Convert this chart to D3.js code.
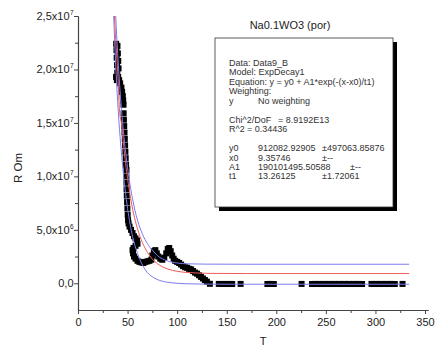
<!DOCTYPE html>
<html>
<head>
<meta charset="utf-8">
<script src="https://cdn.jsdelivr.net/npm/d3@7"></script>
<style>
  body { margin: 0; background: #fff; }
  svg { display: block; font-family: "Liberation Sans", Arial, sans-serif; }
</style>
</head>
<body>
<svg id="chart" width="438" height="347"></svg>
<script>
// measured points [T, R in 1e6 Ohm]
const measured = [
  [38.5,22.4],[39.8,22.2],[38.8,21.8],[40.2,21.5],[39.0,21.1],[40.6,20.8],[39.4,20.4],
  [40.9,20.1],[39.6,19.7],[38.4,19.3],[39.2,19.0],[40.5,19.3],[41.5,19.0],
  [42.5,18.7],[43.8,18.3],[44.5,17.9],[45.2,17.5],[45.6,17.1],[45.9,16.7],
  [46.0,15.9],[46.3,15.3],[46.6,14.7],[46.9,14.1],[47.2,13.5],[47.5,12.9],[47.8,12.3],
  [48.1,11.7],[48.5,11.1],[48.9,10.6],[48.8,10.0],[48.9,9.4],[49.0,8.8],[49.2,8.2],
  [49.5,7.6],[49.8,7.0],[50.1,6.4],[50.5,5.9],
  [51,5.6],[52,5.3],[53.5,5.0],[55,4.7],[56.5,4.4],[58,4.2],[59.5,4.0],[60,3.7],[58,3.5],
  [56,3.3],[55,3.1],[55.5,2.8],[56.5,2.5],[58,2.3],[60,2.1],[62,2.0],[64,1.95],[66,1.9],
  [68,2.0],[70,2.05],[72,2.1],[74,2.2],
  [75,2.6],[76.5,3.0],[78,3.1],[79.5,2.8],[81,2.5],[83,2.3],[85,2.2],[87,2.4],[89,2.8],
  [90.5,3.2],[92,3.3],[93.5,3.0],[95,2.6],[96.5,2.3],[98,2.1],[100,2.0],[102,1.9],
  [104,1.75],[106,1.6],[108,1.5],[110,1.45],[112,1.35],[114,1.3],[116,1.15],[118,1.0],
  [120,0.9],[122,0.75],[124,0.6],[126,0.45],[128,0.3],[130,0.15],
  [133,-0.05],[142,-0.06],[145,-0.07],[148,-0.06],[151,-0.07],[154,-0.06],[155.5,-0.07],
  [164,-0.06],[191,-0.07],[194,-0.06],[197.5,-0.07],[225.5,-0.06],
  [236,-0.07],[238.5,-0.06],[241,-0.07],[243.5,-0.06],[246,-0.07],[248.5,-0.06],[251,-0.07],
  [253.5,-0.06],[256,-0.07],[258.5,-0.06],[261,-0.07],[263.5,-0.06],[266,-0.07],[268.5,-0.06],
  [271,-0.07],[273.5,-0.06],[276,-0.07],[278.5,-0.06],[281,-0.07],[283.5,-0.06],[286.5,-0.07],
  [296,-0.06],[298.5,-0.07],[301,-0.06],[303.5,-0.07],[306,-0.06],[308.5,-0.07],[311,-0.06],
  [313.5,-0.07],[316,-0.06],[319.5,-0.07],[327.3,-0.06]
];

// ExpDecay1 fit curve
const fitCurve = [
  [36.7,25.0],[38,22.8],[40,19.8],[42,16.0],[44,14.9],[46,12.9],[48,11.2],[50,9.8],
  [53,8.0],[56,6.55],[60,5.1],[65,3.8],[70,2.9],[75,2.26],[80,1.84],[90,1.35],
  [100,1.12],[110,1.01],[120,0.96],[140,0.92],[170,0.91],[334,0.91]
];
// upper and lower bands (blue)
const upperBand = [
  [38,25.0],[40,21.5],[45,15.0],[50,10.8],[55,7.9],[60,5.9],[65,4.6],[70,3.7],[75,3.1],
  [80,2.6],[90,2.1],[100,1.9],[110,1.82],[130,1.79],[170,1.78],[334,1.78]
];
const lowerBand = [
  [36,25.0],[38,20.5],[40,17.0],[45,11.0],[50,7.0],[55,4.4],[60,2.8],[65,1.7],[70,1.0],
  [75,0.6],[80,0.35],[90,0.1],[100,0.0],[110,-0.05],[130,-0.08],[170,-0.09],[334,-0.09]
];

const xTicks = [0, 50, 100, 150, 200, 250, 300, 350];
const xMinor = [25, 75, 125, 175, 225, 275, 325];
const yTicks = [0, 5, 10, 15, 20, 25];
const yMinor = [2.5, 7.5, 12.5, 17.5, 22.5];
const yTickMant = ["0,0", "5,0x10", "1,0x10", "1,5x10", "2,0x10", "2,5x10"];
const yTickExp = ["", "6", "7", "7", "7", "7"];

const legendRows = [
  ["Data: Data9_B"],
  ["Model: ExpDecay1"],
  ["Equation: y = y0 + A1*exp(-(x-x0)/t1)"],
  ["Weighting:"],
  ["y", "No weighting"],
  [],
  ["Chi^2/DoF", "= 8.9192E13"],
  ["R^2", "= 0.34436"],
  [],
  ["y0", "912082.92905", "±497063.85876"],
  ["x0", "9.35746", "±--"],
  ["A1", "190101495.50588", "±--"],
  ["t1", "13.26125", "±1.72061"]
];

const svg = d3.select("#chart");
const x = d3.scaleLinear().domain([0, 353]).range([78, 428]);
const y = d3.scaleLinear().domain([-2.5, 25]).range([310, 16]);

// axes
const axisColor = "#444";
function styleAxis(g) {
  g.select(".domain").attr("stroke", axisColor).attr("stroke-width", 1.1);
  g.selectAll(".tick line").attr("stroke", axisColor).attr("stroke-width", 1);
}
svg.append("g").attr("transform", "translate(0,310)")
  .call(d3.axisBottom(x).tickValues(xTicks).tickSize(4).tickSizeOuter(0).tickPadding(4))
  .call(styleAxis)
  .call(g => g.selectAll(".tick text").attr("font-size", 11).attr("fill", "#222")
    .attr("font-family", "Liberation Sans, Arial, sans-serif"));
svg.append("g").attr("transform", "translate(0,310)")
  .call(d3.axisBottom(x).tickValues(xMinor).tickSize(3).tickSizeOuter(0).tickFormat(""))
  .call(styleAxis);

svg.append("g").attr("transform", "translate(78,0)")
  .call(d3.axisLeft(y).tickValues(yTicks).tickSize(4).tickSizeOuter(0).tickFormat(""))
  .call(styleAxis);
svg.append("g").attr("transform", "translate(78,0)")
  .call(d3.axisLeft(y).tickValues(yMinor).tickSize(3).tickSizeOuter(0).tickFormat(""))
  .call(styleAxis);

svg.append("g").selectAll("text").data(yTicks).join("text")
  .attr("x", (d, i) => yTickExp[i] ? 69.5 : 73.5)
  .attr("y", d => y(d) + 4)
  .attr("text-anchor", "end")
  .attr("font-size", 11).attr("fill", "#222")
  .text((d, i) => yTickMant[i]);
svg.append("g").selectAll("text").data(yTicks).join("text")
  .attr("x", 70).attr("y", d => y(d) - 1)
  .attr("font-size", 6.5).attr("fill", "#222")
  .text((d, i) => yTickExp[i]);

// axis titles
svg.append("text").attr("x", 263).attr("y", 345).attr("text-anchor", "middle")
  .attr("font-size", 11).attr("fill", "#222").text("T");
svg.append("text").attr("transform", "translate(22,168) rotate(-90)")
  .attr("text-anchor", "middle").attr("font-size", 11.5).attr("fill", "#222").text("R Om");
svg.append("text").attr("x", 290).attr("y", 29).attr("text-anchor", "middle")
  .attr("font-size", 11).attr("fill", "#222").text("Na0.1WO3 (por)");

// data squares
const sq = 6;
svg.append("g").selectAll("rect").data(measured).join("rect")
  .attr("x", d => x(d[0]) - sq / 2).attr("y", d => y(d[1]) - sq / 2)
  .attr("width", sq).attr("height", sq).attr("fill", "#000");

// fit lines
const line = d3.line().x(d => x(d[0])).y(d => y(d[1])).curve(d3.curveMonotoneX);
svg.append("path").datum(upperBand).attr("d", line)
  .attr("fill", "none").attr("stroke", "#7c7cf0").attr("stroke-width", 1);
svg.append("path").datum(lowerBand).attr("d", line)
  .attr("fill", "none").attr("stroke", "#7c7cf0").attr("stroke-width", 1);
svg.append("path").datum(fitCurve).attr("d", line)
  .attr("fill", "none").attr("stroke", "#ee5a5a").attr("stroke-width", 1);

// legend box with shadow
const box = { x: 215, y: 38, w: 178, h: 169 };
svg.append("rect").attr("x", box.x + 4).attr("y", box.y + 4)
  .attr("width", box.w).attr("height", box.h).attr("fill", "#000");
svg.append("rect").attr("x", box.x).attr("y", box.y)
  .attr("width", box.w).attr("height", box.h)
  .attr("fill", "#fff").attr("stroke", "#333").attr("stroke-width", 0.8);

// column stops inside the legend, per row
const colStops = {
  4: [229, 258], 6: [229, 278], 7: [229, 247],
  9: [229, 258, 322], 10: [229, 258, 322], 11: [229, 258, 350], 12: [229, 258, 322]
};
const leg = svg.append("g").attr("font-size", 9).attr("fill", "#333");
legendRows.forEach((row, r) => {
  row.forEach((txt, c) => {
    const cx = (colStops[r] || [229])[c];
    leg.append("text").attr("x", cx).attr("y", 66 + r * 9.45).text(txt);
  });
});
</script>
</body>
</html>
